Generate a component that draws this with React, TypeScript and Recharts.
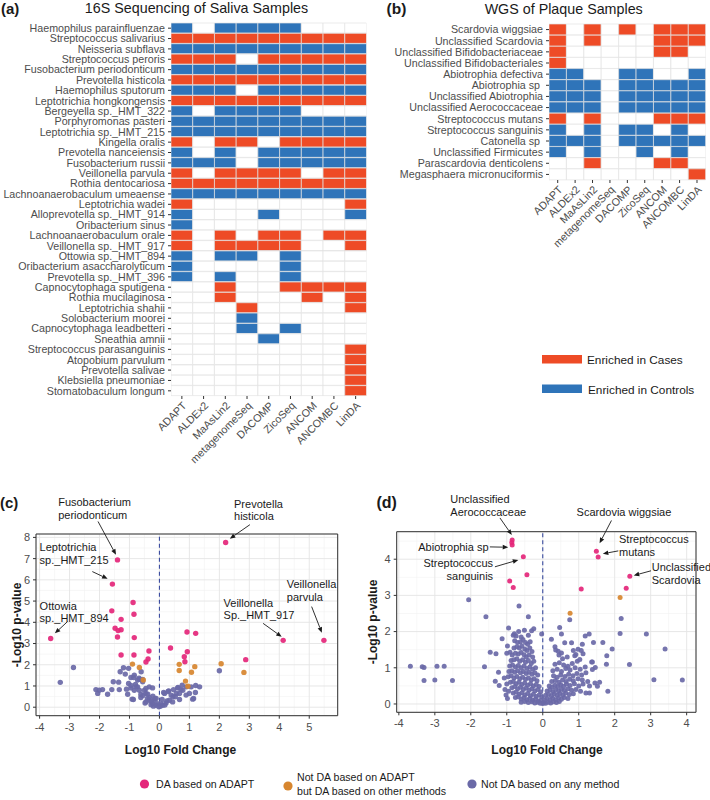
import React from "react";
import {
  BarChart, Bar, Cell, XAxis, YAxis, ScatterChart, Scatter, CartesianGrid,
  ReferenceLine, ReferenceDot, ReferenceArea,
} from "recharts";

// methods compared in both heatmaps
const METHODS = ["ADAPT", "ALDEx2", "MaAsLin2", "metagenomeSeq", "DACOMP", "ZicoSeq", "ANCOM", "ANCOMBC", "LinDA"];

// (a) 16S saliva: 1 = enriched in cases, -1 = enriched in controls, 0 = not DA
const SALIVA_TAXA = [
  "Haemophilus parainfluenzae", "Streptococcus salivarius", "Neisseria subflava", "Streptococcus peroris",
  "Fusobacterium periodonticum", "Prevotella histicola", "Haemophilus sputorum", "Leptotrichia hongkongensis",
  "Bergeyella sp._HMT_322", "Porphyromonas pasteri", "Leptotrichia sp._HMT_215", "Kingella oralis",
  "Prevotella nanceiensis", "Fusobacterium russii", "Veillonella parvula", "Rothia dentocariosa",
  "Lachnoanaerobaculum umeaense", "Leptotrichia wadei", "Alloprevotella sp._HMT_914", "Oribacterium sinus",
  "Lachnoanaerobaculum orale", "Veillonella sp._HMT_917", "Ottowia sp._HMT_894", "Oribacterium asaccharolyticum",
  "Prevotella sp._HMT_396", "Capnocytophaga sputigena", "Rothia mucilaginosa", "Leptotrichia shahii",
  "Solobacterium moorei", "Capnocytophaga leadbetteri", "Sneathia amnii", "Streptococcus parasanguinis",
  "Atopobium parvulum", "Prevotella salivae", "Klebsiella pneumoniae", "Stomatobaculum longum",
];
const SALIVA_CALLS = [
  [-1, 0, -1, -1, -1, -1, 0, 0, 0],
  [1, 1, 1, 1, 1, 1, 1, 1, 1],
  [-1, -1, -1, -1, -1, -1, -1, -1, -1],
  [1, 1, 1, 0, 1, 1, 1, 1, 1],
  [-1, -1, -1, -1, -1, -1, -1, -1, -1],
  [1, 1, 1, 1, 1, 1, 1, 1, 1],
  [-1, -1, -1, 0, -1, -1, -1, -1, -1],
  [1, 1, 1, 1, 1, 1, 1, 1, 1],
  [-1, 0, -1, -1, -1, -1, 0, 0, 0],
  [-1, -1, -1, -1, -1, -1, -1, -1, -1],
  [-1, -1, -1, -1, -1, -1, -1, -1, -1],
  [1, 0, 1, 1, 0, 1, 1, 1, 1],
  [-1, 0, -1, 0, -1, -1, -1, -1, -1],
  [-1, -1, -1, 0, -1, -1, -1, -1, -1],
  [1, 0, 1, 1, 1, 1, 0, 1, 1],
  [1, 1, 1, 1, 1, 1, 1, 1, 1],
  [-1, -1, -1, -1, -1, -1, -1, -1, -1],
  [1, 0, 0, 0, 0, 0, 0, 0, 1],
  [-1, 0, 0, 0, -1, 0, 0, 0, -1],
  [-1, 0, 0, 0, 0, 0, 0, 0, 0],
  [1, 0, 1, 0, 1, 1, 0, 1, 1],
  [1, 0, 1, 1, 1, 1, 0, 0, 1],
  [-1, 0, -1, -1, 0, -1, 0, 0, 0],
  [-1, 0, 0, 0, 0, -1, 0, 0, 0],
  [-1, 0, -1, 0, 0, -1, 0, 0, 0],
  [0, 0, 1, 0, 0, 1, 1, 1, 1],
  [0, 0, 1, 0, 0, 0, 1, 0, 1],
  [0, 0, 0, 1, 0, 0, 0, 0, 1],
  [0, 0, 0, -1, 0, 0, 0, 0, 0],
  [0, 0, 0, -1, 0, -1, 0, 0, 0],
  [0, 0, 0, 0, -1, 0, 0, 0, 0],
  [0, 0, 0, 0, 0, 0, 0, 0, 1],
  [0, 0, 0, 0, 0, 0, 0, 0, 1],
  [0, 0, 0, 0, 0, 0, 0, 0, 1],
  [0, 0, 0, 0, 0, 0, 0, 0, 1],
  [0, 0, 0, 0, 0, 0, 0, 0, 1],
];

// (b) WGS plaque
const PLAQUE_TAXA = [
  "Scardovia wiggsiae", "Unclassified Scardovia", "Unclassified Bifidobacteriaceae", "Unclassified Bifidobacteriales",
  "Abiotrophia defectiva", "Abiotrophia sp\u00A0", "Unclassified Abiotrophia", "Unclassified Aerococcaceae",
  "Streptococcus mutans", "Streptococcus sanguinis", "Catonella sp\u00A0", "Unclassified Firmicutes",
  "Parascardovia denticolens", "Megasphaera micronuciformis",
];
const PLAQUE_CALLS = [
  [1, 0, 1, 0, 1, 0, 1, 1, 1],
  [1, 0, 1, 0, 0, 0, 1, 1, 1],
  [1, 0, 0, 0, 0, 0, 1, 1, 0],
  [1, 0, 0, 0, 0, 0, 0, 0, 0],
  [-1, -1, 0, 0, -1, -1, 0, 0, -1],
  [-1, -1, -1, 0, -1, -1, -1, -1, -1],
  [-1, -1, -1, 0, -1, -1, -1, -1, -1],
  [-1, -1, -1, 0, -1, -1, -1, -1, -1],
  [1, 0, 1, 0, 0, 0, 1, 1, 1],
  [-1, 0, -1, 0, -1, -1, 0, -1, 0],
  [-1, -1, -1, 0, -1, -1, -1, -1, -1],
  [-1, 0, -1, 0, 0, -1, 0, -1, 0],
  [0, 0, 1, 0, 0, 0, 1, 1, 0],
  [0, 0, 0, 0, 0, 0, 0, 0, 1],
];

// (c) saliva volcano: [log10 fold change, -log10 p]
const C_PINK = [
  [-3.63, 3.24], [-1.40, 6.94], [-1.57, 5.80], [2.21, 7.76], [4.13, 3.15], [5.49, 3.15],
  [-0.88, 4.93], [-0.85, 4.38], [-1.59, 4.54], [-1.28, 4.14], [-1.48, 3.72], [-1.38, 3.61], [-1.28, 3.65],
  [-1.40, 3.31], [-0.84, 3.28], [-1.28, 2.46], [-0.85, 2.46], [-0.35, 2.65], [-0.38, 2.27], [-0.45, 2.13],
  [0.37, 2.79], [0.92, 3.54], [1.21, 3.48], [0.93, 2.61], [0.83, 2.38], [0.85, 2.14], [2.88, 2.24],
];
const C_ORANGE = [
  [-0.90, 2.03], [-0.67, 1.87], [-0.54, 1.28], [0.66, 2.02], [0.66, 1.73], [1.18, 1.91], [1.07, 1.65],
  [0.87, 1.23], [0.95, 0.99], [2.06, 2.05], [2.82, 1.64],
];
const C_PURPLE = [
  [-2.87, 1.87], [-3.31, 1.17], [2.00, 1.72],
  [-2.12, 0.83], [-2.01, 0.80], [-1.90, 0.83], [-2.06, 0.65], [-1.73, 0.61], [-1.59, 0.83], [-1.34, 0.83],
  [-1.54, 1.20], [-1.36, 1.18], [-1.31, 1.67], [-1.20, 1.86], [-1.03, 1.83], [-1.14, 1.56], [-0.95, 1.40],
  [-0.84, 1.51], [-0.67, 1.31], [-0.80, 1.07], [-0.56, 1.31], [-1.10, 0.85], [-0.95, 0.91], [-1.06, 0.61],
  [-0.84, 0.80], [-0.73, 0.96], [-0.50, 0.80], [-0.62, 0.60], [-0.45, 0.65], [-0.34, 0.96], [-0.87, 0.36],
  [-0.45, 0.25], [-0.34, 0.33], [-0.17, 0.33], [-0.06, 0.17], [0.03, 0.05], [0.11, 0.09], [0.22, 0.20],
  [0.33, 0.33], [0.45, 0.49], [0.17, 0.65], [0.31, 0.77], [0.47, 0.83], [0.62, 0.93], [0.56, 0.65],
  [0.78, 0.80], [0.76, 1.04], [0.90, 0.96], [1.06, 0.96], [1.21, 1.02], [1.34, 0.96], [1.14, 0.41],
  [1.00, 0.65], [-0.22, 0.52], [-0.11, 0.41], [0.09, 0.36], [1.20, 0.69], [1.11, 0.38],
  [-0.61, 1.67], [-0.68, 1.37], [-0.73, 1.28], [-0.56, 1.20], [-0.78, 0.96], [-0.67, 0.80], [-0.45, 0.88],
  [-0.23, 0.91], [-0.39, 0.61], [-0.62, 0.46], [-0.48, 0.20], [-0.34, 0.46], [-0.23, 0.17], [-0.15, 0.41],
  [-0.11, 0.09], [-0.02, 0.02], [0.14, 0.69], [0.29, 0.74], [0.39, 0.57], [0.44, 0.25], [0.53, 0.49],
  [0.67, 0.36], [0.61, 0.91], [0.72, 0.83], [0.67, 0.65], [0.89, 0.57], [-0.28, 0.12], [-0.20, 0.05],
  [0.05, 0.15], [0.18, 0.10], [-0.40, 0.40], [-0.27, 0.28], [0.25, 0.30], [-0.55, 0.55], [-0.86, 1.40],
  [-1.03, 1.12], [-0.95, 1.02], [-0.91, 0.38],
];

// (d) plaque volcano
const D_PINK = [
  [-0.85, 4.53], [-0.86, 4.46], [-0.85, 4.39], [-0.54, 4.07], [-0.44, 3.57], [-0.92, 3.40], [-0.82, 3.22],
  [1.49, 4.22], [1.54, 4.06], [1.07, 3.18], [2.32, 3.20], [2.42, 3.53],
];
const D_ORANGE = [[0.76, 2.51], [2.15, 2.94]];
const D_PURPLE = [
  [-3.68, 1.04], [-3.35, 1.03], [-3.30, 1.01], [-2.94, 1.04], [-2.74, 1.04], [-3.30, 0.65], [-3.00, 0.66],
  [-2.51, 0.65], [-2.06, 2.88], [-1.58, 2.41], [-1.62, 1.03], [-1.46, 1.43],
  [-1.30, 1.39], [-1.13, 1.80], [-1.23, 0.88], [-1.32, 0.63], [-1.21, 0.51], [-1.07, 0.72], [-0.98, 1.60],
  [-1.00, 1.40], [-0.91, 1.43], [-0.95, 2.10], [-0.66, 2.71], [-0.40, 2.41], [-1.05, 0.40], [-1.02, 0.25],
  [-0.98, 0.15], [-1.00, 0.55], [-0.95, 0.35],
  [-0.82, 1.90], [-0.79, 1.94], [-0.74, 1.88], [-0.67, 2.00], [-0.60, 1.85], [-0.51, 2.04], [-0.40, 1.90],
  [-0.31, 2.02], [-0.25, 2.08], [-0.03, 1.93],
  [-0.78, 1.75], [-0.70, 1.70], [-0.62, 1.72], [-0.55, 1.78], [-0.48, 1.70], [-0.42, 1.65], [-0.35, 1.72],
  [-0.80, 1.55], [-0.72, 1.58], [-0.65, 1.55], [-0.58, 1.60], [-0.50, 1.52], [-0.44, 1.48], [-0.36, 1.55], [-0.30, 1.45],
  [-0.85, 1.35], [-0.76, 1.40], [-0.68, 1.38], [-0.60, 1.42], [-0.52, 1.36], [-0.46, 1.30], [-0.38, 1.35], [-0.28, 1.30],
  [-0.88, 1.20], [-0.80, 1.22], [-0.72, 1.25], [-0.64, 1.18], [-0.56, 1.22], [-0.48, 1.15], [-0.40, 1.20], [-0.32, 1.12], [-0.25, 1.18],
  [-0.92, 1.05], [-0.84, 1.08], [-0.76, 1.02], [-0.68, 1.06], [-0.60, 1.00], [-0.52, 1.05], [-0.44, 0.98], [-0.36, 1.02], [-0.28, 0.96], [-0.20, 1.00],
  [-0.94, 0.90], [-0.86, 0.92], [-0.78, 0.88], [-0.70, 0.92], [-0.62, 0.86], [-0.54, 0.90], [-0.46, 0.84], [-0.38, 0.88], [-0.30, 0.82], [-0.22, 0.86], [-0.14, 0.80],
  [-0.96, 0.75], [-0.88, 0.78], [-0.80, 0.72], [-0.72, 0.76], [-0.64, 0.70], [-0.56, 0.74], [-0.48, 0.68], [-0.40, 0.72], [-0.32, 0.66], [-0.24, 0.70], [-0.16, 0.64],
  [-0.90, 0.60], [-0.82, 0.62], [-0.74, 0.56], [-0.66, 0.60], [-0.58, 0.54], [-0.50, 0.58], [-0.42, 0.52], [-0.34, 0.56], [-0.26, 0.50], [-0.18, 0.54], [-0.10, 0.48],
  [-0.86, 0.45], [-0.78, 0.48], [-0.70, 0.42], [-0.62, 0.46], [-0.54, 0.40], [-0.46, 0.44], [-0.38, 0.38], [-0.30, 0.42], [-0.22, 0.36], [-0.14, 0.40], [-0.06, 0.34],
  [-0.82, 0.30], [-0.74, 0.33], [-0.66, 0.27], [-0.58, 0.31], [-0.50, 0.25], [-0.42, 0.29], [-0.34, 0.23], [-0.26, 0.27], [-0.18, 0.21], [-0.10, 0.25], [-0.03, 0.20],
  [-0.76, 0.18], [-0.68, 0.20], [-0.60, 0.14], [-0.52, 0.18], [-0.44, 0.12], [-0.36, 0.16], [-0.28, 0.10], [-0.20, 0.14], [-0.12, 0.08], [-0.05, 0.10],
  [-0.60, 0.05], [-0.50, 0.07], [-0.40, 0.04], [-0.30, 0.06], [-0.22, 0.03], [-0.14, 0.05], [-0.07, 0.02], [0.00, 0.01],
  [0.03, 0.04], [0.08, 0.02], [0.15, 0.05], [0.22, 0.03], [0.30, 0.06], [0.38, 0.04], [0.46, 0.07],
  [0.05, 0.12], [0.12, 0.15], [0.20, 0.11], [0.28, 0.16], [0.36, 0.12], [0.44, 0.17], [0.52, 0.13], [0.60, 0.18], [0.70, 0.15],
  [0.08, 0.24], [0.16, 0.27], [0.24, 0.22], [0.32, 0.28], [0.40, 0.24], [0.48, 0.29], [0.56, 0.25], [0.64, 0.30], [0.74, 0.26], [0.85, 0.28],
  [0.12, 0.36], [0.20, 0.39], [0.28, 0.34], [0.36, 0.40], [0.44, 0.36], [0.52, 0.41], [0.60, 0.37], [0.70, 0.42], [0.80, 0.38], [0.92, 0.40], [1.05, 0.35], [1.20, 0.30],
  [0.18, 0.50], [0.26, 0.47], [0.34, 0.52], [0.42, 0.48], [0.50, 0.53], [0.58, 0.49], [0.66, 0.55], [0.76, 0.51], [0.88, 0.56], [1.00, 0.50], [1.12, 0.55], [1.30, 0.50],
  [0.25, 0.62], [0.35, 0.65], [0.45, 0.60], [0.55, 0.66], [0.65, 0.62], [0.75, 0.68], [0.85, 0.64], [0.98, 0.70], [1.10, 0.66], [1.25, 0.62], [1.45, 0.58],
  [0.30, 0.78], [0.40, 0.74], [0.50, 0.80], [0.62, 0.76], [0.72, 0.82], [0.84, 0.78], [0.95, 0.84], [1.08, 0.80], [1.20, 0.86],
  [0.28, 0.92], [0.40, 0.96], [0.52, 0.90], [0.64, 0.98], [0.76, 0.94], [0.90, 1.00], [1.04, 0.96], [1.18, 1.02], [1.36, 1.16],
  [0.34, 1.10], [0.46, 1.14], [0.58, 1.08], [0.70, 1.04], [0.82, 1.12], [0.96, 1.18], [1.46, 1.01], [1.38, 0.95],
  [0.24, 1.79], [0.34, 1.58], [0.47, 2.11], [0.52, 1.93], [0.75, 2.33], [0.36, 1.49], [0.43, 1.46], [0.52, 1.41],
  [0.61, 1.69], [0.80, 1.69], [0.92, 1.37], [0.98, 1.51], [1.03, 1.23], [1.18, 1.88], [1.29, 1.93], [1.10, 1.65],
  [0.68, 1.30], [0.55, 1.25], [0.45, 1.35], [0.85, 1.48],
  [1.41, 1.70], [1.67, 1.70], [1.93, 1.52], [1.78, 1.33], [1.77, 1.10], [1.38, 1.16], [1.81, 0.35], [1.58, 0.60],
  [1.52, 0.49], [1.30, 0.30], [1.07, 1.48], [1.12, 1.39], [0.89, 1.33], [2.18, 2.36], [2.15, 1.95], [2.88, 1.93],
  [3.40, 1.52], [3.09, 0.67], [3.88, 0.66], [2.41, 1.09],
];

const C_X_TICKS = [-4, -3, -2, -1, 0, 1, 2, 3, 4, 5];
const C_Y_TICKS = [0, 1, 2, 3, 4, 5, 6, 7, 8];
const D_X_TICKS = [-4, -3, -2, -1, 0, 1, 2, 3, 4];
const D_Y_TICKS = [0, 1, 2, 3, 4];

// labelled taxa: text anchor, arrow start, arrow end (data units)
const C_NOTES = [
  { lines: ["Fusobacterium", "periodonticum"], at: [-3.38, 9.46], from: [-2.05, 8.75], to: [-1.45, 7.18], anchor: "start" },
  { lines: ["Prevotella", "histicola"], at: [2.49, 9.40], from: [3.02, 8.60], to: [2.35, 7.94], anchor: "start" },
  { lines: ["Leptotrichia", "sp._HMT_215"], at: [-4.0, 7.36], from: [-2.24, 6.39], to: [-1.73, 6.05], anchor: "start" },
  { lines: ["Ottowia", "sp._HMT_894"], at: [-4.0, 4.60], from: [-3.07, 4.03], to: [-3.49, 3.48], anchor: "start" },
  { lines: ["Veillonella", "Sp._HMT_917"], at: [2.14, 4.74], from: [3.46, 3.95], to: [4.08, 3.32], anchor: "start" },
  { lines: ["Veillonella", "parvula"], at: [4.25, 5.62], from: [5.08, 4.74], to: [5.42, 3.51], anchor: "start" },
];
const D_NOTES = [
  { lines: ["Unclassified", "Aerococcaceae"], at: [-2.57, 5.55], from: [-1.19, 5.14], to: [-0.86, 4.67], anchor: "start" },
  { lines: ["Abiotrophia sp"], at: [-3.46, 4.23], from: [-1.47, 4.34], to: [-0.96, 4.33], anchor: "start" },
  { lines: ["Streptococcus", "sanguinis"], at: [-1.38, 3.79], from: [-1.33, 3.79], to: [-0.68, 3.98], anchor: "end" },
  { lines: ["Scardovia wiggsiae"], at: [0.94, 5.18], from: [1.91, 5.07], to: [1.58, 4.44], anchor: "start" },
  { lines: ["Streptococcus", "mutans"], at: [2.12, 4.44], from: [2.10, 4.23], to: [1.67, 4.15], anchor: "start" },
  { lines: ["Unclassified", "Scardovia"], at: [3.03, 3.67], from: [3.01, 3.68], to: [2.53, 3.55], anchor: "start" },
];

const RED = "#EE4B26";
const BLUE = "#2F74B9";
const PINK = "#E4267A";
const ORANGE = "#D7862F";
const PURPLE = "#6A69A7";
const INK = "#1A1A1A";
const TICK = "#4D4D4D";
const FONT = "'Liberation Sans', Arial, Helvetica, sans-serif";

function MethodTick(props: any) {
  const { x, y, payload } = props;
  const name = METHODS[Math.floor(payload.value)];
  return (
    <text x={x} y={y} dy="0.71em" textAnchor="end" fontSize={10.7} fill={TICK}
      transform={`rotate(-45 ${x} ${y})`}>
      {name}
    </text>
  );
}

// plain text so long taxon names are not wrapped
function TaxonTick(props: any) {
  const { x, y, payload } = props;
  return (
    <text x={x} y={y} dy="0.355em" textAnchor="end" fontSize={10.7} fill={TICK}>
      {payload.value}
    </text>
  );
}

function Heatmap({ taxa, calls, width, height, yAxisWidth, top, right }: any) {
  const rows = taxa.map((name: string) => {
    const row: any = { name };
    METHODS.forEach((_, j) => { row["m" + j] = 1; });
    return row;
  });
  return (
    <BarChart layout="vertical" width={width} height={height} data={rows} barCategoryGap={0}
      margin={{ top, right, left: 0, bottom: 0 }}>
      <XAxis type="number" domain={[0, METHODS.length]} allowDataOverflow
        ticks={METHODS.map((_, j) => j + 0.5)} interval={0} height={70}
        axisLine={false} tickLine={{ stroke: "#333" }} tickSize={3} tickMargin={2}
        tick={<MethodTick />} />
      <YAxis type="category" dataKey="name" width={yAxisWidth} interval={0}
        axisLine={false} tickLine={{ stroke: "#333" }} tickSize={3} tickMargin={3}
        tick={<TaxonTick />} />
      {METHODS.map((m, j) => (
        <Bar key={m} dataKey={"m" + j} stackId="calls" isAnimationActive={false}>
          {calls.map((c: number[], i: number) => (
            <Cell key={i} fill={c[j] > 0 ? RED : c[j] < 0 ? BLUE : "#FFFFFF"}
              stroke="#E2E2E2" strokeWidth={0.7} />
          ))}
        </Bar>
      ))}
    </BarChart>
  );
}

function ArrowShape(props: any) {
  const { x1, y1, x2, y2 } = props;
  const a = Math.atan2(y2 - y1, x2 - x1);
  const len = 5.5;
  const w = 2.3;
  const bx = x2 - len * Math.cos(a);
  const by = y2 - len * Math.sin(a);
  const pts = `${x2},${y2} ${bx + w * Math.sin(a)},${by - w * Math.cos(a)} ${bx - w * Math.sin(a)},${by + w * Math.cos(a)}`;
  return (
    <g>
      <line x1={x1} y1={y1} x2={bx} y2={by} stroke={INK} strokeWidth={0.9} />
      <polygon points={pts} fill={INK} />
    </g>
  );
}

const toPts = (arr: number[][]) => arr.map(([x, y]) => ({ x, y }));

const dot = (color: string, r: number) => (p: any) => (
  <circle cx={p.cx} cy={p.cy} r={r} fill={color} fillOpacity={0.92} />
);

function Volcano({ pink, orange, purple, xDomain, yDomain, xTicks, yTicks, notes, width, height, margin, yAxisWidth, r }: any) {
  const minorX = [xTicks[0] - 0.5, ...xTicks.map((t: number) => t + 0.5)].filter((v) => v > xDomain[0] && v < xDomain[1]);
  const minorY = [yTicks[0] - 0.5, ...yTicks.map((t: number) => t + 0.5)].filter((v) => v > yDomain[0] && v < yDomain[1]);
  return (
    <ScatterChart width={width} height={height} margin={margin}>
      <CartesianGrid stroke="#F1F1F1" strokeWidth={0.6} verticalValues={minorX} horizontalValues={minorY} />
      <CartesianGrid stroke="#E4E4E4" strokeWidth={0.9} />
      <XAxis type="number" dataKey="x" domain={xDomain} allowDataOverflow ticks={xTicks} interval={0}
        height={20} axisLine={false} tickLine={{ stroke: "#333" }} tickSize={3} tickMargin={4}
        tick={{ fontSize: 11, fill: TICK }} />
      <YAxis type="number" dataKey="y" domain={yDomain} allowDataOverflow ticks={yTicks} interval={0}
        width={yAxisWidth} axisLine={false} tickLine={{ stroke: "#333" }} tickSize={3} tickMargin={3}
        tick={{ fontSize: 11, fill: TICK }} />
      <ReferenceLine x={0} stroke="#3B4CA0" strokeWidth={1.1} strokeDasharray="4 3" />
      <Scatter data={toPts(purple)} isAnimationActive={false} shape={dot(PURPLE, r)} />
      <Scatter data={toPts(orange)} isAnimationActive={false} shape={dot(ORANGE, r)} />
      <Scatter data={toPts(pink)} isAnimationActive={false} shape={dot(PINK, r)} />
      <ReferenceArea x1={xDomain[0]} x2={xDomain[1]} y1={yDomain[0]} y2={yDomain[1]}
        fill="none" fillOpacity={0} stroke="#333" strokeWidth={1} ifOverflow="visible" />
      {notes.map((n: any, i: number) => (
        <ReferenceLine key={"arrow" + i} ifOverflow="visible" shape={ArrowShape}
          segment={[{ x: n.from[0], y: n.from[1] }, { x: n.to[0], y: n.to[1] }]} />
      ))}
      {notes.map((n: any, i: number) => (
        <ReferenceDot key={"note" + i} x={n.at[0]} y={n.at[1]} r={0} ifOverflow="visible"
          shape={(p: any) => (
            <text x={p.cx} y={p.cy} fontSize={11} fill={INK} textAnchor={n.anchor}>
              {n.lines.map((l: string, k: number) => (
                <tspan key={k} x={p.cx} dy={k === 0 ? 0 : 12.8}>{l}</tspan>
              ))}
            </text>
          )} />
      ))}
    </ScatterChart>
  );
}

export default function App() {
  return (
    <div style={{ position: "absolute", left: 0, top: 0, width: 710, height: 800, background: "#fff", fontFamily: FONT }}>
      <div style={{ position: "absolute", left: 0, top: 0 }}>
        <Heatmap taxa={SALIVA_TAXA} calls={SALIVA_CALLS} width={372} height={466} yAxisWidth={171} top={23} right={5.5} />
      </div>
      <div style={{ position: "absolute", left: 360, top: 0 }}>
        <Heatmap taxa={PLAQUE_TAXA} calls={PLAQUE_CALLS} width={350} height={250} yAxisWidth={189} top={24} right={4.3} />
      </div>
      <div style={{ position: "absolute", left: 0, top: 460 }}>
        <Volcano pink={C_PINK} orange={C_ORANGE} purple={C_PURPLE} notes={C_NOTES}
          xDomain={[-4.12, 5.95]} yDomain={[-0.4, 8.16]} xTicks={C_X_TICKS} yTicks={C_Y_TICKS}
          width={345} height={290} yAxisWidth={36} r={2.7}
          margin={{ top: 74, right: 7.3, left: 0, bottom: 14.3 }} />
      </div>
      <div style={{ position: "absolute", left: 355, top: 460 }}>
        <Volcano pink={D_PINK} orange={D_ORANGE} purple={D_PURPLE} notes={D_NOTES}
          xDomain={[-4.06, 4.26]} yDomain={[-0.23, 4.76]} xTicks={D_X_TICKS} yTicks={D_Y_TICKS}
          width={355} height={290} yAxisWidth={41.7} r={2.5}
          margin={{ top: 71.7, right: 14, left: 0, bottom: 17.7 }} />
      </div>
      <svg width={710} height={800} style={{ position: "absolute", left: 0, top: 0, pointerEvents: "none" }}>
        <text x={1} y={13.5} fontSize={15} fontWeight="bold" fill={INK}>(a)</text>
        <text x={196.5} y={12.5} fontSize={14.3} fill={INK} textAnchor="middle">16S Sequencing of Saliva Samples</text>
        <text x={386.5} y={13.5} fontSize={15.5} fontWeight="bold" fill={INK}>(b)</text>
        <text x={563.7} y={14} fontSize={14.3} fill={INK} textAnchor="middle">WGS of Plaque Samples</text>

        <rect x={542} y={355} width={40} height={8.5} fill={RED} />
        <text x={587} y={364} fontSize={11.8} fill={INK}>Enriched in Cases</text>
        <rect x={542} y={384.5} width={40} height={8.5} fill={BLUE} />
        <text x={588} y={393.5} fontSize={11.8} fill={INK}>Enriched in Controls</text>

        <text x={0} y={508} fontSize={15} fontWeight="bold" fill={INK}>(c)</text>
        <text x={376.5} y={508} fontSize={16} fontWeight="bold" fill={INK}>(d)</text>
        <text x={16.5} y={625} fontSize={12} fontWeight="bold" fill={INK} textAnchor="middle" dominantBaseline="central"
          transform="rotate(-90 16.5 625)">-Log10 p-value</text>
        <text x={373.3} y={622} fontSize={12} fontWeight="bold" fill={INK} textAnchor="middle" dominantBaseline="central"
          transform="rotate(-90 373.3 622)">-Log10 p-value</text>
        <text x={180.5} y={754} fontSize={12} fontWeight="bold" fill={INK} textAnchor="middle">Log10 Fold Change</text>
        <text x={547} y={754} fontSize={12} fontWeight="bold" fill={INK} textAnchor="middle">Log10 Fold Change</text>

        <circle cx={144.5} cy={784} r={4.6} fill={PINK} />
        <text x={156} y={788} fontSize={10.6} fill={INK}>DA based on ADAPT</text>
        <circle cx={288} cy={786} r={4.6} fill={ORANGE} />
        <text x={297} y={781} fontSize={10.6} fill={INK}>Not DA based on ADAPT</text>
        <text x={297} y={795} fontSize={10.6} fill={INK}>but DA based on other methods</text>
        <circle cx={472} cy={784} r={4.6} fill={PURPLE} />
        <text x={481} y={788} fontSize={10.6} fill={INK}>Not DA based on any method</text>
      </svg>
    </div>
  );
}
